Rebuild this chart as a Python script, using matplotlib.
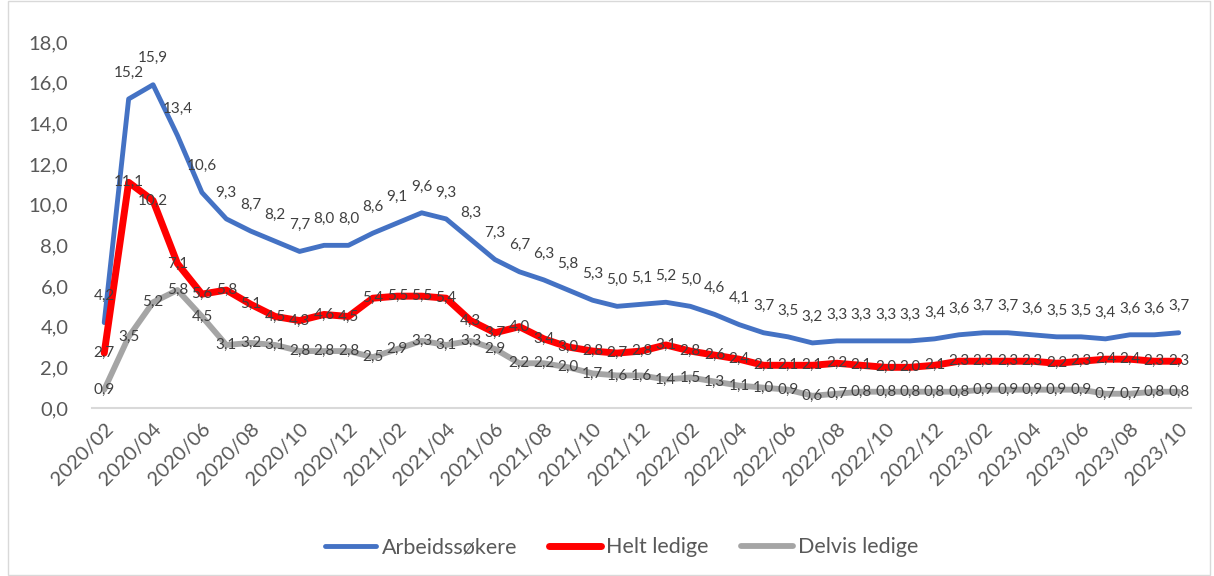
import numpy as np
import matplotlib.pyplot as plt
from matplotlib.patches import Rectangle

plt.rcParams['font.family'] = ['Lato', 'DejaVu Sans']

# Months 2020/02 .. 2023/10
months = []
for y in range(2020, 2024):
    for m in range(1, 13):
        if (y == 2020 and m < 2) or (y == 2023 and m > 10):
            continue
        months.append(f"{y}/{m:02d}")

arbeidssokere = [4.2, 15.2, 15.9, 13.4, 10.6, 9.3, 8.7, 8.2, 7.7, 8.0, 8.0,
                 8.6, 9.1, 9.6, 9.3, 8.3, 7.3, 6.7, 6.3, 5.8, 5.3, 5.0, 5.1,
                 5.2, 5.0, 4.6, 4.1, 3.7, 3.5, 3.2, 3.3, 3.3, 3.3, 3.3, 3.4,
                 3.6, 3.7, 3.7, 3.6, 3.5, 3.5, 3.4, 3.6, 3.6, 3.7]
helt_ledige = [2.7, 11.1, 10.2, 7.1, 5.6, 5.8, 5.1, 4.5, 4.3, 4.6, 4.5,
               5.4, 5.5, 5.5, 5.4, 4.3, 3.7, 4.0, 3.4, 3.0, 2.8, 2.7, 2.8,
               3.1, 2.8, 2.6, 2.4, 2.1, 2.1, 2.1, 2.2, 2.1, 2.0, 2.0, 2.1,
               2.3, 2.3, 2.3, 2.3, 2.2, 2.3, 2.4, 2.4, 2.3, 2.3]
delvis_ledige = [0.9, 3.5, 5.2, 5.8, 4.5, 3.1, 3.2, 3.1, 2.8, 2.8, 2.8,
                 2.5, 2.9, 3.3, 3.1, 3.3, 2.9, 2.2, 2.2, 2.0, 1.7, 1.6, 1.6,
                 1.4, 1.5, 1.3, 1.1, 1.0, 0.9, 0.6, 0.7, 0.8, 0.8, 0.8, 0.8,
                 0.8, 0.9, 0.9, 0.9, 0.9, 0.9, 0.7, 0.7, 0.8, 0.8]

x = np.arange(len(months))

fig = plt.figure(figsize=(12.14, 5.76), dpi=100)
ax = fig.add_axes([0.0758, 0.2917, 0.9052, 0.6353])

series = [
    (arbeidssokere, "Arbeidssøkere", "#4472C4", 3.5, 19),
    (helt_ledige, "Helt ledige", "#FF0000", 5.0, 0),
    (delvis_ledige, "Delvis ledige", "#A5A5A5", 4.2, 0),
]
for vals, name, col, lw, off in series:
    ax.plot(x, vals, color=col, lw=lw, label=name, solid_joinstyle='round',
            solid_capstyle='round', zorder=2)

# data labels: above for the blue line, centred on the point for the others
for vals, name, col, lw, off in series:
    for xi, v in zip(x, vals):
        ax.annotate(f"{v:.1f}".replace('.', ','), (xi, v), xytext=(0, off),
                    textcoords='offset points', ha='center', va='center',
                    fontsize=11, color='#404040', zorder=5)

ax.set_xlim(-0.5, len(months) - 0.5)
ax.set_ylim(0, 18)
yt = np.arange(0, 18.1, 2)
ax.set_yticks(yt)
ax.set_yticklabels([f"{t:.1f}".replace('.', ',') for t in yt])
ax.set_xticks(x[::2])
ax.set_xticklabels(months[::2], rotation=45, ha='right', va='top',
                   rotation_mode='anchor')
ax.tick_params(axis='both', length=0, labelsize=14.5, colors='#595959')
ax.tick_params(axis='y', pad=17)
ax.tick_params(axis='x', pad=9)
for s in ['top', 'right', 'left']:
    ax.spines[s].set_visible(False)
ax.spines['bottom'].set_color('#D9D9D9')
ax.spines['bottom'].set_linewidth(1.5)

leg = fig.legend(loc='center', bbox_to_anchor=(0.512, 0.05), ncol=3,
                 frameon=False, fontsize=15.5, handlelength=2.4,
                 handletextpad=0.25, columnspacing=1.5)
for t in leg.get_texts():
    t.set_color('#595959')

fig.patches.append(Rectangle((0.007, 0.002), 0.99, 0.996, transform=fig.transFigure,
                             fill=False, edgecolor='#D9D9D9', lw=1))

plt.savefig("out.png", dpi=100)
